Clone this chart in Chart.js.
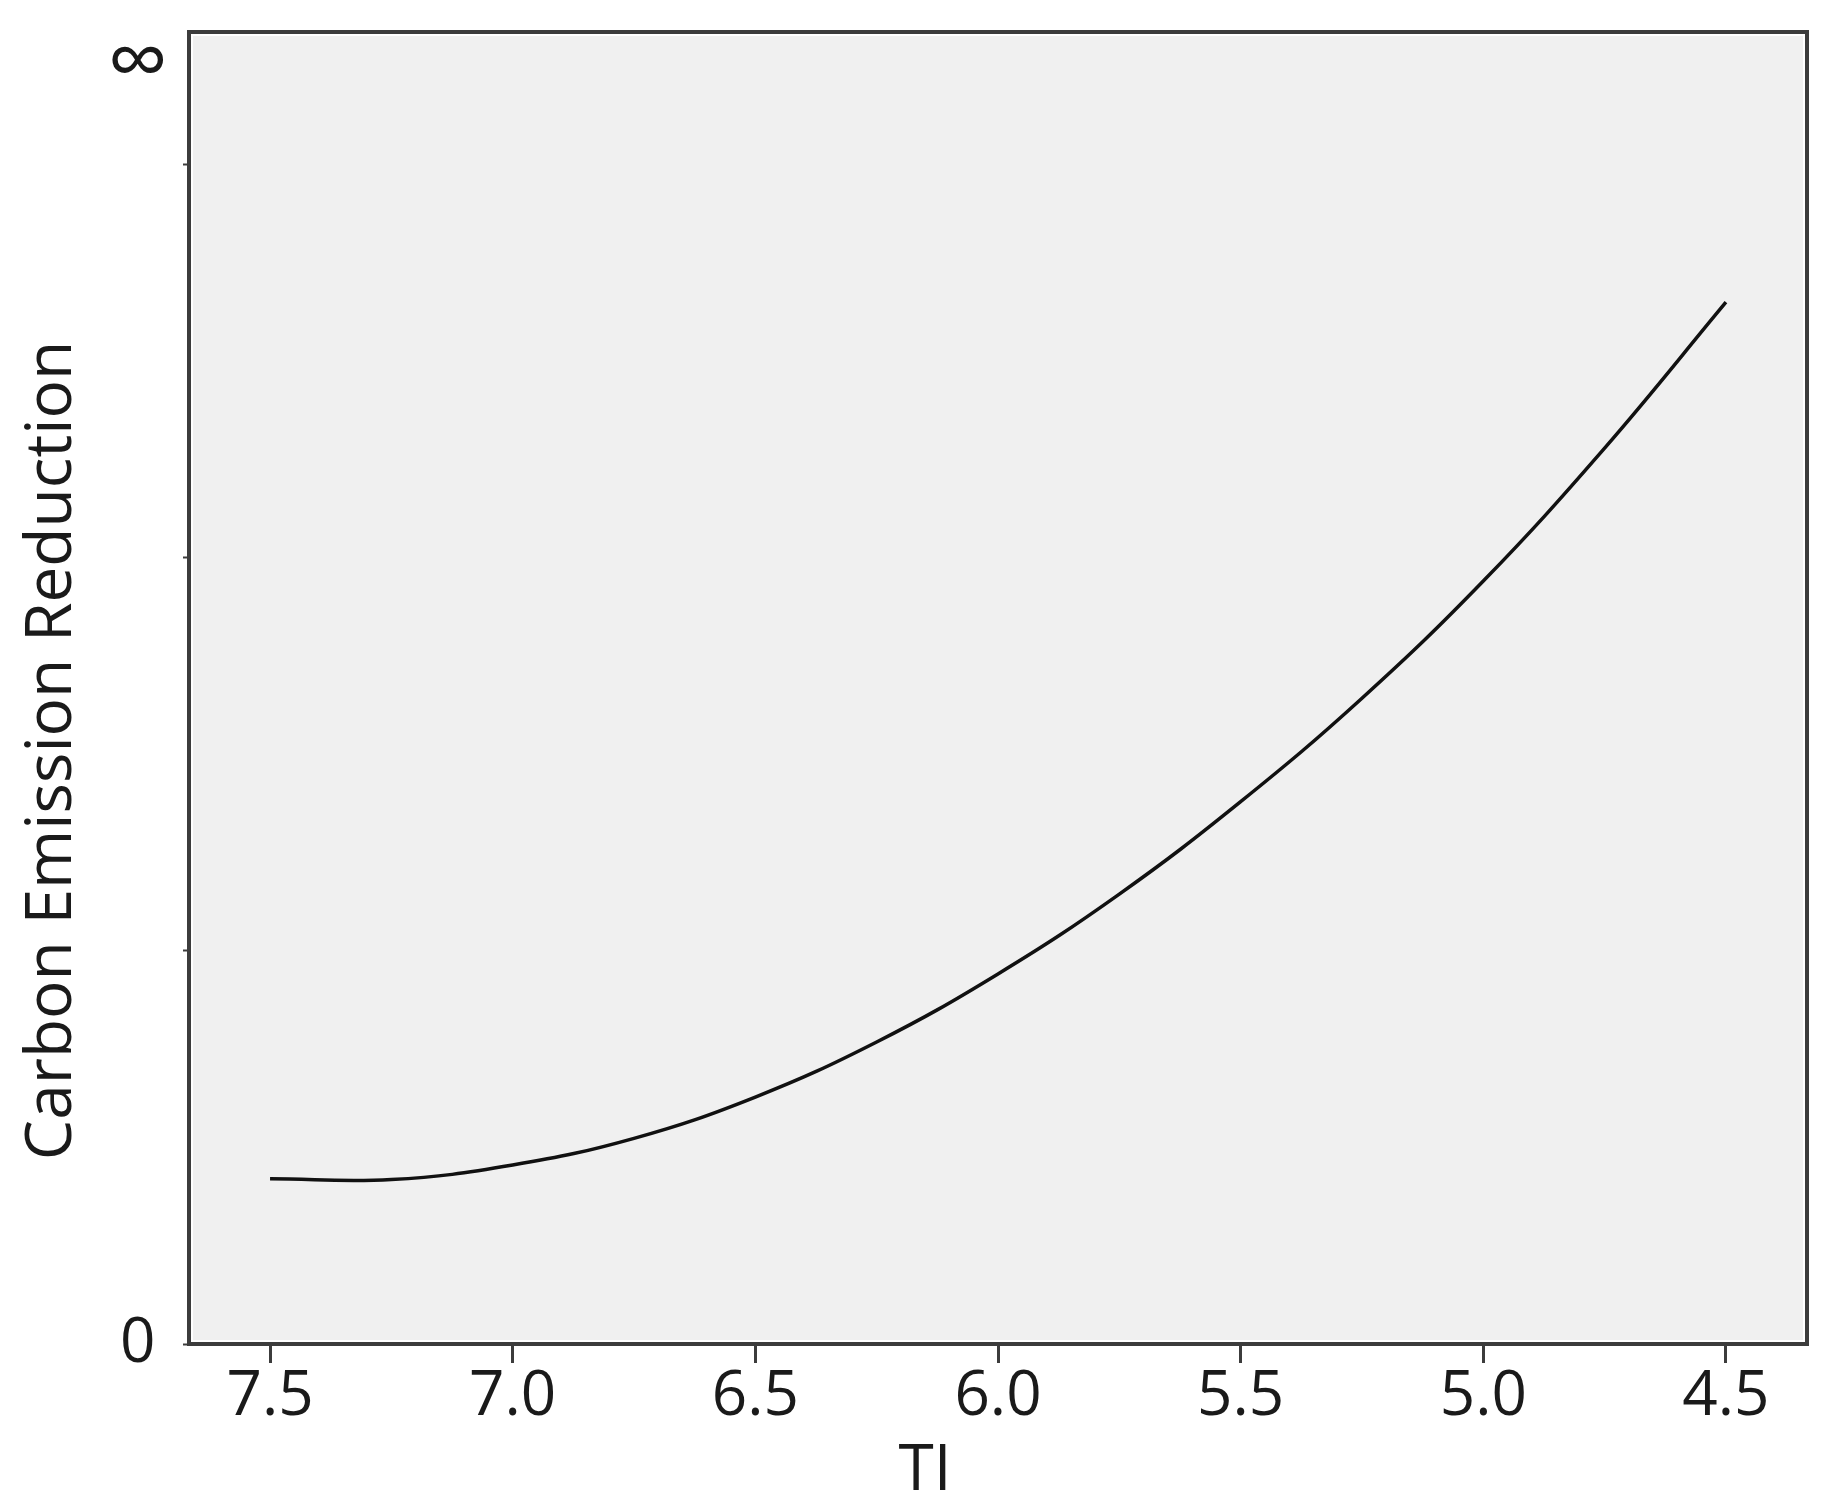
<!DOCTYPE html>
<html>
<head>
<meta charset="utf-8">
<script src="https://cdn.jsdelivr.net/npm/chart.js@4.4.1/dist/chart.umd.min.js"></script>
<style>
  body { margin: 0; background: #fff; }
  canvas { display: block; }
</style>
</head>
<body>
<canvas id="chart" width="1840" height="1501"></canvas>
<script>
// TI on the x axis (reversed), fitted carbon emission reduction on y
const tiValues = [7.5, 7.25, 7.0, 6.75, 6.5, 6.25, 6.0, 5.75, 5.5, 5.25, 5.0, 4.75, 4.5];
const reduction = [0.42, 0.418, 0.455, 0.523, 0.628, 0.768, 0.941, 1.144, 1.379, 1.642, 1.94, 2.278, 2.649];

const xTicks = [7.5, 7.0, 6.5, 6.0, 5.5, 5.0, 4.5];
const yTicks = [0, 1, 2, 3, 3.25];
const yTickLabels = ['0', '', '', '', '\u221E'];

const FONT = '"Open Sans", "Noto Sans", sans-serif';
const INK = '#1a1a1a';

const framePlugin = {
  id: 'frame',
  beforeDatasetsDraw(chart) {
    const { ctx, chartArea: a } = chart;
    ctx.save();
    ctx.fillStyle = '#f0f0f0';
    ctx.fillRect(a.left, a.top, a.right - a.left, a.bottom - a.top);
    ctx.restore();
  },
  afterDraw(chart) {
    const { ctx, chartArea: a } = chart;
    ctx.save();
    ctx.strokeStyle = '#ffffff';
    ctx.lineWidth = 2;
    ctx.strokeRect(a.left + 3, a.top + 3, a.right - a.left - 6, a.bottom - a.top - 6);
    ctx.strokeStyle = '#3c3c3c';
    ctx.lineWidth = 4;
    ctx.strokeRect(a.left, a.top, a.right - a.left, a.bottom - a.top);

    // axis titles, centred on the whole figure like the original
    ctx.fillStyle = INK;
    ctx.font = '64px ' + FONT;
    ctx.textAlign = 'center';
    ctx.textBaseline = 'middle';
    ctx.fillText('TI', chart.width / 2 + 5, 1472);
    ctx.translate(53, chart.height / 2);
    ctx.rotate(-Math.PI / 2);
    ctx.fillText('Carbon Emission Reduction', 0, 0);
    ctx.restore();
  }
};

new Chart(document.getElementById('chart'), {
  type: 'line',
  data: {
    labels: tiValues,
    datasets: [{
      data: tiValues.map((x, i) => ({ x: x, y: reduction[i] })),
      borderColor: '#111111',
      borderWidth: 3.5,
      pointRadius: 0,
      tension: 0.4,
      fill: false
    }]
  },
  options: {
    responsive: false,
    animation: false,
    layout: { padding: { left: 0, right: 33, top: 32, bottom: 0 } },
    plugins: { legend: { display: false }, tooltip: { enabled: false } },
    scales: {
      x: {
        type: 'linear',
        reverse: true,
        min: 4.333,
        max: 7.667,
        afterBuildTicks(scale) { scale.ticks = xTicks.map(v => ({ value: v })); },
        afterFit(scale) { scale.height = 157; scale.paddingLeft = 0; scale.paddingRight = 0; },
        grid: { drawOnChartArea: false, drawTicks: true, tickLength: 19, tickWidth: 3, tickColor: '#3c3c3c' },
        border: { display: false },
        ticks: {
          padding: 10,
          color: INK,
          font: { family: FONT, size: 62, lineHeight: 0.8 },
          maxRotation: 0,
          autoSkip: false,
          callback: v => v.toFixed(1)
        }
      },
      y: {
        min: 0,
        max: 3.336,
        afterBuildTicks(scale) { scale.ticks = yTicks.map(v => ({ value: v })); },
        afterFit(scale) { scale.width = 189; scale.paddingTop = 0; scale.paddingBottom = 0; },
        grid: {
          drawOnChartArea: false,
          drawTicks: true,
          tickLength: 6,
          tickWidth: 2,
          tickColor: ctx => yTickLabels[ctx.index] === '\u221E' ? 'rgba(0,0,0,0)' : '#3c3c3c'
        },
        border: { display: false },
        ticks: {
          padding: 15,
          crossAlign: 'center',
          color: INK,
          font: ctx => ({ family: FONT, size: yTickLabels[ctx.index] === '\u221E' ? 86 : 62 }),
          autoSkip: false,
          callback: (v, i) => yTickLabels[i]
        }
      }
    }
  },
  plugins: [framePlugin]
});
</script>
</body>
</html>
